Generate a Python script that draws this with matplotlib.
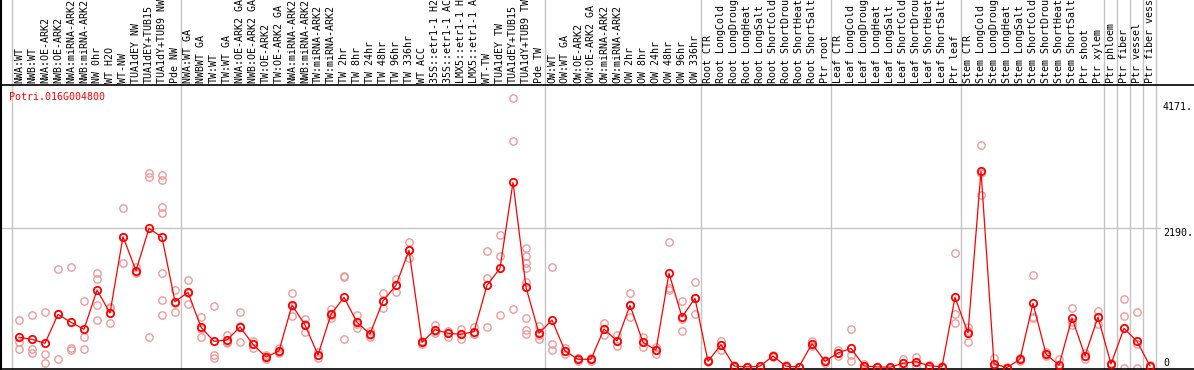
import matplotlib
matplotlib.use("Agg")
import matplotlib.pyplot as plt

# sample names, grouped the same way as the grey separators
labels_nw = ["NWA:WT", "NWB:WT", "NWA:OE-ARK2", "NWB:OE-ARK2", "NWA:miRNA-ARK2",
             "NWB:miRNA-ARK2", "NW 0hr", "WT H2O", "WT-NW", "TUA1dEY NW",
             "TUA1dEY+TUB15", "TUA1dY+TUB9 NW", "Pde NW"]
labels_tw = ["NWA:WT GA", "NWBWT GA", "TW:WT", "TW:WT GA", "NWA:OE-ARK2 GA",
             "NWB:OE-ARK2 GA", "TW:OE-ARK2", "TW:OE-ARK2 GA", "NWA:miRNA-ARK2",
             "NWB:miRNA-ARK2", "TW:miRNA-ARK2", "TW:miRNA-ARK2", "TW 2hr", "TW 8hr",
             "TW 24hr", "TW 48hr", "TW 96hr", "TW 336hr", "WT ACC", "35S::etr1-1 H2",
             "35S::etr1-1 AC", "LMX5::etr1-1 H", "LMX5::etr1-1 A", "WT-TW",
             "TUA1dEY TW", "TUA1dEY+TUB15", "TUA1dY+TUB9 TW", "Pde TW"]
labels_ow = ["OW:WT", "OW:WT GA", "OW:OE-ARK2", "OW:OE-ARK2 GA", "OW:miRNA-ARK2",
             "OW:miRNA-ARK2", "OW 2hr", "OW 8hr", "OW 24hr", "OW 48hr", "OW 96hr",
             "OW 336hr"]
labels_root = ["Root CTR", "Root LongCold", "Root LongDroug", "Root LongHeat",
               "Root LongSalt", "Root ShortCold", "Root ShortDrou", "Root ShortHeat",
               "Root ShortSalt", "Ptr root"]
labels_leaf = ["Leaf CTR", "Leaf LongCold", "Leaf LongDroug", "Leaf LongHeat",
               "Leaf LongSalt", "Leaf ShortCold", "Leaf ShortDrou", "Leaf ShortHeat",
               "Leaf ShortSalt", "Ptr leaf"]
labels_stem = ["Stem CTR", "Stem LongCold", "Stem LongDroug", "Stem LongHeat",
               "Stem LongSalt", "Stem ShortCold", "Stem ShortDrou", "Stem ShortHeat",
               "Stem ShortSalt", "Ptr shoot", "Ptr xylem"]
labels_tissue = ["Ptr phloem", "Ptr fiber", "Ptr vessel", "Ptr fiber vess"]

gene_id = "Potri.016G004800"
ytick_values = [4171, 2190, 0]
ytick_text = ["4171.", "2190.", "0"]

# mean expression per sample (red line)
means = [475, 443, 381, 836, 711, 601, 1219, 857, 2058, 1523, 2190, 2048, 1035,
         1183, 632, 412, 433, 637, 365, 165, 260, 983, 669, 197, 836, 1104, 711,
         527, 1046, 1293, 1844, 396, 595, 538, 522, 563, 1293, 1560, 2913, 1261, 538,
         747, 260, 129, 129, 606, 417, 978, 396, 275, 1482, 794, 1088,
         97, 359, 24, 10, 20, 181, 20, 10, 375, 97,
         228, 302, 24, 10, 5, 66, 92, 29, 10, 1104,
         543, 3091, 55, 0, 129, 1010, 212, 35, 779, 186, 794,
         55, 616, 412, 24]

# individual replicates (pink circles)
replicates = [
    [747, 406, 286], [826, 286, 233], [868, 207, 66], [1544, 835, 129],
    [1576, 302, 275], [1046, 485, 286], [1482, 1387, 983, 747], [957, 931, 695],
    [2504, 2058, 1639], [1576, 1482, 1510], [3060, 2990, 475],
    [3035, 2957, 2520, 2426, 1482, 1062, 826], [1219, 1018, 868],
    [1376, 1174, 999], [799, 612, 485], [967, 197, 145], [511, 407, 381],
    [868, 647, 396], [417, 366, 312], [190, 165, 140], [302, 250, 228],
    [1167, 972, 810], [758, 686, 563], [249, 197, 145], [915, 819, 774],
    [1434, 1430, 448], [826, 691, 616], [579, 517, 485], [1167, 1040, 931],
    [1387, 1300, 1192], [1969, 1845, 1718], [420, 396, 375], [669, 569, 547],
    [579, 550, 485], [601, 522, 443], [632, 530, 527], [1833, 1413, 637],
    [2084, 1754, 821], [4235, 3568, 920],
    [1875, 1754, 1650, 1570, 1350, 784, 590, 520], [653, 513, 448],
    [1576, 370, 271], [312, 260, 207], [150, 129, 100],
    [129, 110, 150], [695, 606, 511], [511, 417, 343], [1167, 978, 790],
    [485, 396, 328], [328, 275, 207], [1969, 1255, 1219], [1046, 762, 574],
    [1340, 1088, 836],
    [97, 80, 115], [412, 359, 275], [24, 40, 10], [10, 5, 15], [20, 30, 10],
    [200, 181, 160], [20, 35, 5], [10, 5, 15], [412, 375, 340], [120, 97, 75],
    [280, 228, 176], [601, 197, 102], [50, 24, 0], [10, 5, 15], [5, 0, 10],
    [129, 66, 5], [160, 92, 25], [29, 45, 15], [10, 0, 20], [1796, 836, 695],
    [642, 580, 406], [3500, 3060, 2713], [145, 20, 0], [0, 5, 0], [129, 150, 110],
    [1450, 799, 780], [250, 212, 175], [134, 0, 0], [931, 721, 669],
    [230, 186, 140], [889, 794, 680],
    [55, 70, 40], [1073, 805, 0], [868, 368, 0], [40, 24, 10],
]

MONO = "DejaVu Sans Mono"
GREY = "#c4c4c4"


def main():
    groups = [labels_nw, labels_tw, labels_ow, labels_root, labels_leaf,
              labels_stem] + [[t] for t in labels_tissue]
    labels = [l for g in groups for l in g]
    xs = list(range(len(labels)))

    fig = plt.figure(figsize=(11.94, 3.70), dpi=100)
    ax = fig.add_axes([1 / 1194, 1 / 370, 1193 / 1194, 284 / 370])

    # 13 px per sample, first sample 18 px in from the frame
    x0 = -18 / 13
    ax.set_xlim(x0, x0 + 1193 / 13)
    ax.set_ylim(-1.5 * 15.73, 282.5 * 15.73)

    # separators between groups, running up through the label strip
    top = 369 / 284
    bounds = [-0.5]
    n = 0
    for g in groups:
        n += len(g)
        bounds.append(n - 0.5)
    for b in bounds:
        ax.axvline(b, ymin=0, ymax=top, color=GREY, lw=1.0, clip_on=False, zorder=1)
    ax.axhline(2190, xmin=0, xmax=1159 / 1193, color=GREY, lw=1.0, zorder=1)
    ax.axvline(x0, ymin=0, ymax=top, color="black", lw=1.5, clip_on=False, zorder=3)

    # replicates
    rx, ry = [], []
    for i, reps in enumerate(replicates):
        rx += [i] * len(reps)
        ry += reps
    ax.plot(rx, ry, ls="none", marker="o", ms=5.3, mfc="none", mec="#ee9a9a",
            mew=1.0, zorder=2)

    # means
    ax.plot(xs, means, color="red", lw=0.9, marker="o", ms=5.3, mfc="none",
            mec="red", mew=1.3, zorder=4)

    ax.set_xticks(xs)
    ax.set_xticklabels(labels, rotation=90, family=MONO, fontsize=7.2)
    ax.xaxis.tick_top()
    ax.tick_params(axis="x", length=0, pad=1.5, top=False, bottom=False)
    ax.set_yticks([])

    for side in ["left", "top", "bottom"]:
        ax.spines[side].set_color("black")
        ax.spines[side].set_linewidth(1.2)
    ax.spines["right"].set_visible(False)

    ytr = ax.get_yaxis_transform()
    xl = (1163 - 1) / 1193
    for v, t in zip(ytick_values, ytick_text):
        ax.text(xl, v, t, transform=ytr, family=MONO, fontsize=7.2,
                va="bottom" if v == 0 else "top", ha="left")

    ax.text((9 - 1) / 1193, (369 - 97) / 284, gene_id, transform=ax.transAxes,
            color="red", family=MONO, fontsize=7.2, va="center", ha="left", zorder=5)

    fig.savefig("out.png", dpi=100)


if __name__ == "__main__":
    main()
